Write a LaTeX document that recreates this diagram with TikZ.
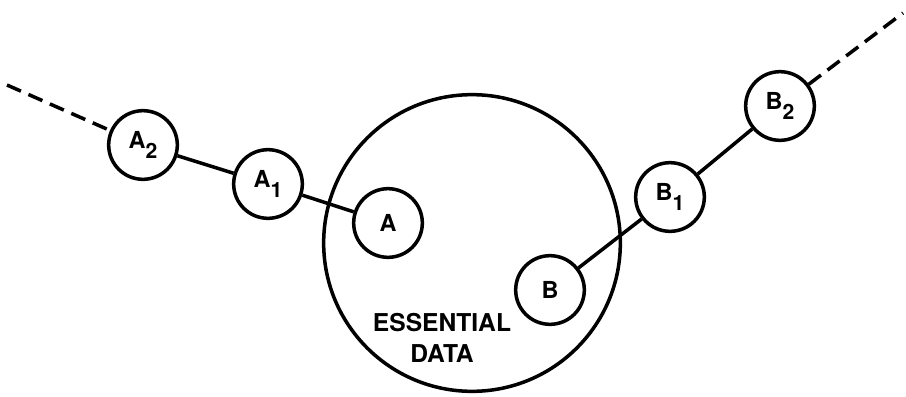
\documentclass[tikz,border=0pt]{standalone}
\usepackage{fontspec}
\setmainfont{TeX Gyre Heros}
\newcommand{\lowsub}[1]{\raisebox{-0.45em}{\fontsize{18}{18}\selectfont #1}}
\begin{document}
\begin{tikzpicture}[x=0.03cm, y=-0.03cm, line width=3pt,
    main/.style = {draw, circle, inner sep=0pt, minimum size=2.06cm, align=center,
                   font=\fontsize{20}{24}\selectfont\bfseries}]
        \useasboundingbox (0, 0) rectangle (906, 396);

        \node[draw, circle, minimum size=8.9cm] (big) at (472, 243) {};
        \node[align=center, font=\fontsize{21}{27}\selectfont\bfseries] (text) at (442, 338) {ESSENTIAL\\DATA};

        \node[main] (a2) at (143, 145) {A\lowsub{2}};
        \node[main] (a1) at (268, 184) {A\lowsub{1}};
        \node[main] (a) at (388, 223) {A};
        \node[main] (b) at (550, 290) {B};
        \node[main] (b1) at (670, 197) {B\lowsub{1}};
        \node[main] (b2) at (780, 106) {B\lowsub{2}};

        \coordinate (aend) at (7, 85);
        \coordinate (bend) at (903, 13);

        \draw[dash pattern=on 13pt off 7pt] (aend) -- (a2);
        \draw (a2) -- (a1);
        \draw (a1) -- (a);
        \draw (b) -- (b1);
        \draw (b1) -- (b2);
        \draw[dash pattern=on 13pt off 7pt] (b2) -- (bend);
    \end{tikzpicture}
\end{document}
